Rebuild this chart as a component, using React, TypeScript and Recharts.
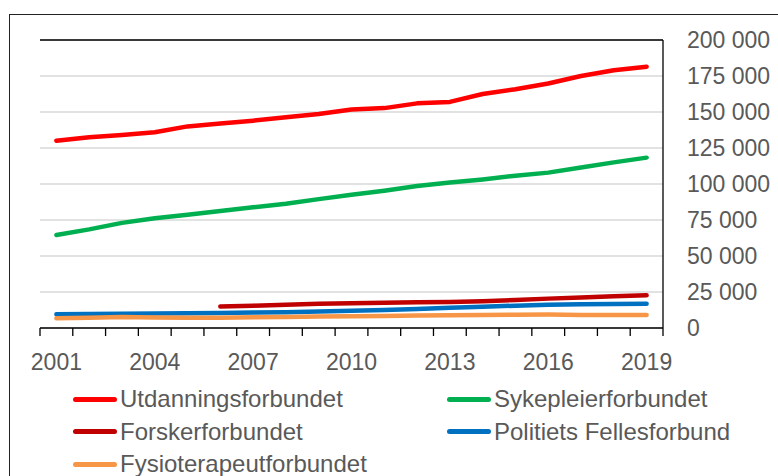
import { LineChart, Line, XAxis, YAxis, CartesianGrid, Legend, ReferenceLine } from "recharts";

const years = [
  2001, 2002, 2003, 2004, 2005, 2006, 2007, 2008, 2009, 2010,
  2011, 2012, 2013, 2014, 2015, 2016, 2017, 2018, 2019,
];

const utdanning = [
  130000, 132500, 134000, 136000, 140000, 142000, 144000, 146300, 148600, 151700,
  152700, 156000, 157000, 162500, 165800, 169800, 175000, 179000, 181500,
];
const sykepleier = [
  64600, 68500, 73000, 76200, 78600, 81200, 83800, 86300, 89500, 92500,
  95300, 98600, 101000, 103200, 105800, 107900, 111500, 115000, 118300,
];
const forsker = [
  null, null, null, null, null, 15000, 15500, 16200, 16800, 17200,
  17500, 17800, 18100, 18600, 19500, 20400, 21200, 22000, 22700,
];
const politiets = [
  9500, 9700, 9900, 10000, 10200, 10400, 10700, 11000, 11500, 12000,
  12500, 13200, 14000, 14800, 15500, 16200, 16500, 16700, 16900,
];
const fysio = [
  6800, 7200, 7600, 7300, 7100, 7200, 7400, 7700, 7900, 8200,
  8400, 8600, 8800, 9000, 9200, 9400, 9100, 9000, 9000,
];

const yTicks = [0, 25000, 50000, 75000, 100000, 125000, 150000, 175000, 200000];

const series = [
  { key: "utdanning", name: "Utdanningsforbundet", color: "#FF0000" },
  { key: "sykepleier", name: "Sykepleierforbundet", color: "#00B050" },
  { key: "forsker", name: "Forskerforbundet", color: "#C00000" },
  { key: "politiets", name: "Politiets Fellesforbund", color: "#0070C0" },
  { key: "fysio", name: "Fysioterapeutforbundet", color: "#F79646" },
];

const data = years.map((year, i) => ({
  year,
  utdanning: utdanning[i],
  sykepleier: sykepleier[i],
  forsker: forsker[i],
  politiets: politiets[i],
  fysio: fysio[i],
}));

const W = 778;
const H = 476;
const LEFT = 40;
const RIGHT_AXIS = 115;
const HALF_BAND = (W - LEFT - RIGHT_AXIS) / years.length / 2;
const FONT = "'Liberation Sans', Arial, sans-serif";
const TEXT = "#595959";

const fmt = (v: number) => (v === 0 ? "0" : `${v / 1000} 000`);

// category-style ticks: marks sit between years, labels every third year
function YearTick(props: any) {
  const { x, y, index, payload } = props;
  const year = payload.value;
  return (
    <g>
      <line x1={x - HALF_BAND} x2={x - HALF_BAND} y1={y} y2={y + 8} stroke="#000" strokeWidth={1.3} />
      {index === years.length - 1 && (
        <line x1={x + HALF_BAND} x2={x + HALF_BAND} y1={y} y2={y + 8} stroke="#000" strokeWidth={1.3} />
      )}
      {(year - 2001) % 3 === 0 && (
        <text x={x} y={y + 42} textAnchor="middle" fill={TEXT} fontSize={23} fontFamily={FONT}>
          {year}
        </text>
      )}
    </g>
  );
}

function LegendBox() {
  return (
    <div
      style={{
        display: "grid",
        gridTemplateColumns: "374px 300px",
        gridAutoRows: "32.5px",
        paddingLeft: 73,
        fontFamily: FONT,
        fontSize: 24,
        color: TEXT,
      }}
    >
      {series.map((s) => (
        <div key={s.key} style={{ display: "flex", alignItems: "center", whiteSpace: "nowrap" }}>
          <span
            style={{
              display: "inline-block",
              width: 44,
              height: 5,
              borderRadius: 3,
              background: s.color,
              marginRight: 3,
            }}
          />
          {s.name}
        </div>
      ))}
    </div>
  );
}

export default function App() {
  return (
    <div style={{ position: "absolute", left: 0, top: 0, width: W, height: H, overflow: "hidden", background: "#fff" }}>
      <div
        style={{
          position: "absolute",
          left: 9,
          top: 14,
          width: W + 20,
          height: H + 20,
          border: "1.5px solid #222",
          boxSizing: "border-box",
        }}
      />
      <LineChart
        width={W}
        height={H}
        data={data}
        margin={{ top: 40, right: 0, left: LEFT, bottom: 98 }}
        style={{ position: "absolute", left: 0, top: 0 }}
      >
        <CartesianGrid yAxisId="r" vertical={false} stroke="#d9d9d9" strokeWidth={1.3} />
        <XAxis
          dataKey="year"
          interval={0}
          padding={{ left: HALF_BAND, right: HALF_BAND }}
          tickSize={0}
          tickMargin={0}
          tickLine={false}
          tick={<YearTick />}
          height={50}
          axisLine={{ stroke: "#000", strokeWidth: 1.3 }}
        />
        <YAxis
          yAxisId="l"
          orientation="left"
          width={0}
          domain={[0, 200000]}
          ticks={yTicks}
          tick={false}
          tickLine={false}
          axisLine={{ stroke: "#000", strokeWidth: 1.3 }}
        />
        <YAxis
          yAxisId="r"
          orientation="right"
          width={RIGHT_AXIS}
          domain={[0, 200000]}
          ticks={yTicks}
          interval={0}
          tickFormatter={fmt}
          tickLine={false}
          tickSize={0}
          tickMargin={24}
          axisLine={{ stroke: "#000", strokeWidth: 1.3 }}
          tick={{ fill: TEXT, fontSize: 23, fontFamily: FONT }}
        />
        <ReferenceLine yAxisId="r" y={200000} stroke="#000" strokeWidth={1.3} />
        {series.map((s) => (
          <Line
            key={s.key}
            yAxisId="r"
            type="linear"
            dataKey={s.key}
            name={s.name}
            stroke={s.color}
            strokeWidth={4.5}
            strokeLinecap="round"
            strokeLinejoin="round"
            dot={false}
            activeDot={false}
            isAnimationActive={false}
          />
        ))}
        <Legend
          layout="horizontal"
          verticalAlign="middle"
          content={<LegendBox />}
          wrapperStyle={{ position: "absolute", top: 383, left: 0, width: W }}
        />
      </LineChart>
    </div>
  );
}
